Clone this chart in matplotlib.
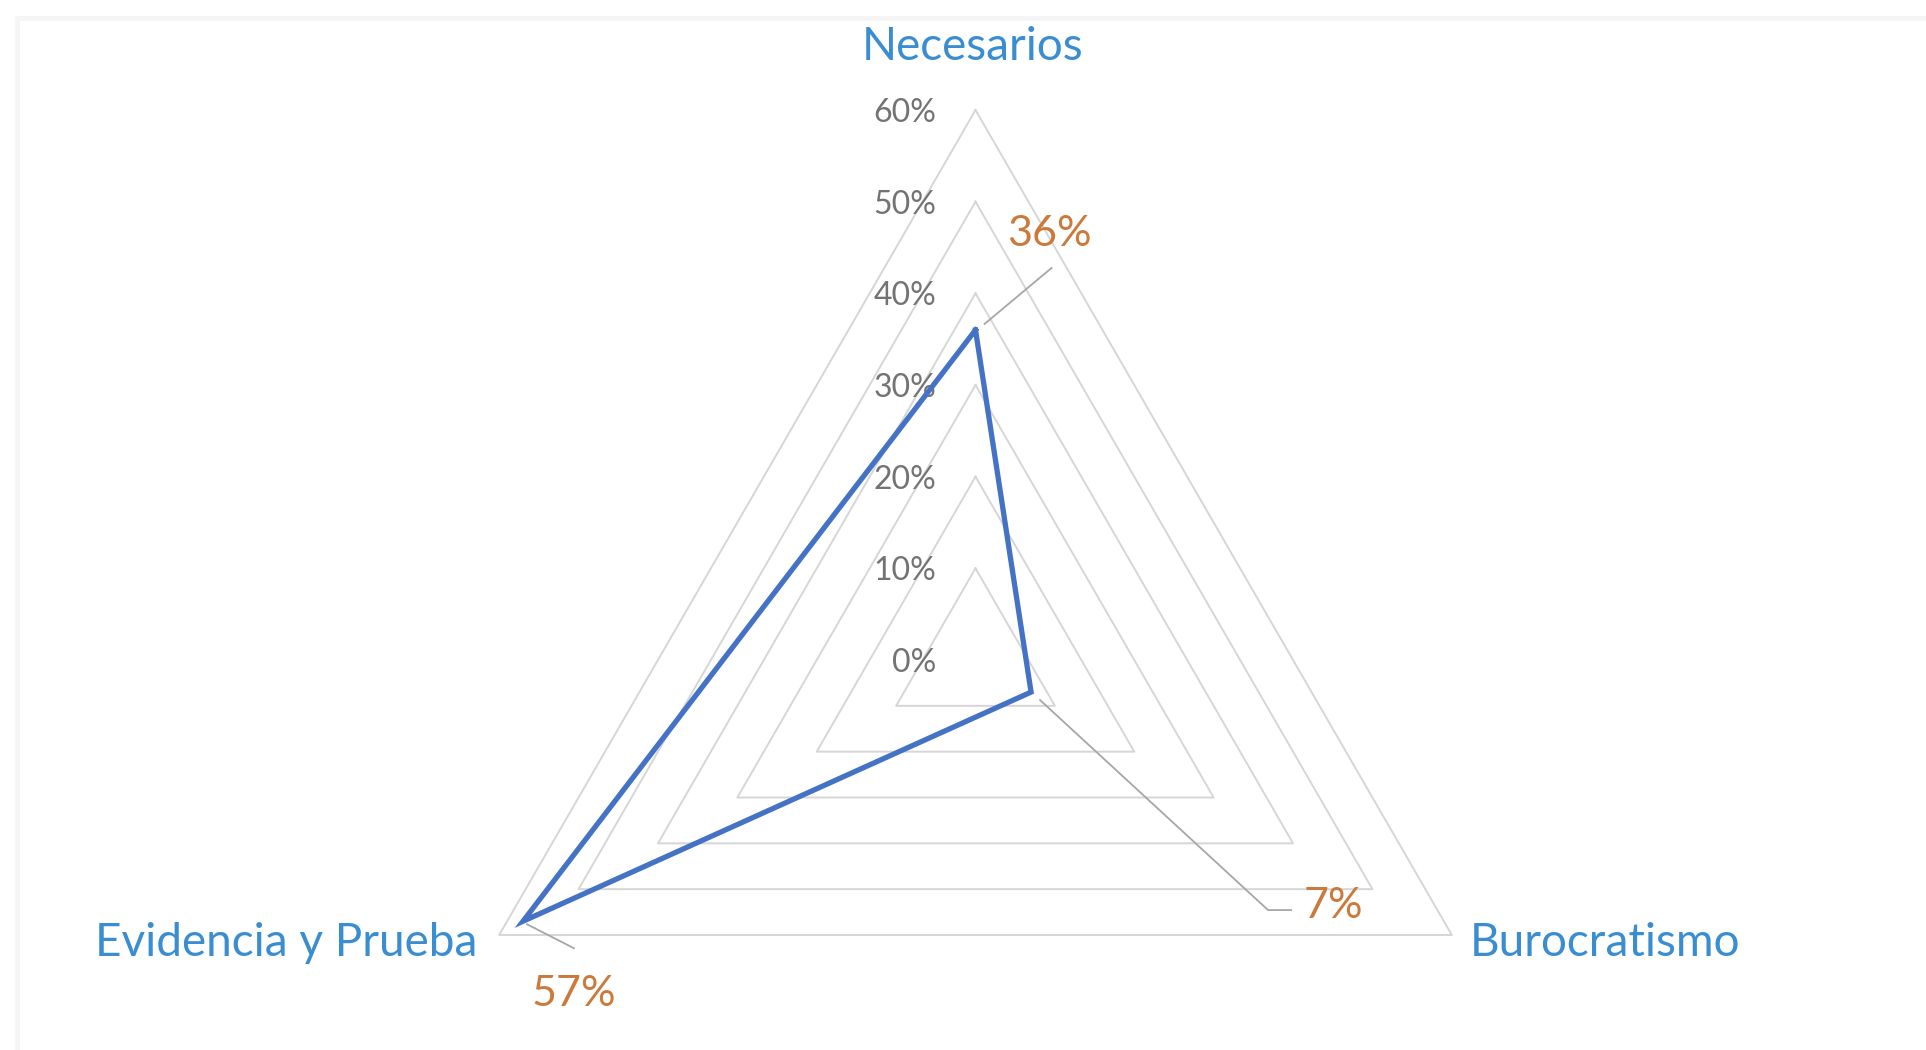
import numpy as np
import matplotlib
matplotlib.use('Agg')
import matplotlib.pyplot as plt
from matplotlib.patches import Rectangle

# data
categories = ['Necesarios', 'Burocratismo', 'Evidencia y Prueba']
values = [36, 7, 57]                     # percent
ticks = [0, 10, 20, 30, 40, 50, 60]      # radial axis

BLUE = '#4472C4'
CAT = '#3A8DD0'
ORANGE = '#CB7A3C'
GRID = '#D6D6D6'
TICK = '#737373'
LEAD = '#A6A6A6'

plt.rcParams['font.family'] = ['Lato', 'DejaVu Sans']

ang = np.deg2rad([90, -30, 210])


def xy(r):
    r = np.broadcast_to(np.asarray(r, float), ang.shape)
    return r * np.cos(ang), r * np.sin(ang)


W, H = 1926, 1050
fig = plt.figure(figsize=(W / 100, H / 100), dpi=100)
ax = fig.add_axes([0, 0, 1, 1])
ppu = 550 / ticks[-1]        # pixels per percent
cx, cy = 975.5, 660          # centre, pixels from top-left
ax.set_xlim(-cx / ppu, (W - cx) / ppu)
ax.set_ylim(-(H - cy) / ppu, cy / ppu)
ax.axis('off')

# faint frame
fig.add_artist(Rectangle((17 / W, -0.1), 1.2, 1 - 18 / H + 0.1,
                         transform=fig.transFigure, fill=False,
                         ec='#F5F5F5', lw=3.5))

# rings
for t in ticks[1:]:
    x, y = xy(t)
    ax.plot(np.append(x, x[0]), np.append(y, y[0]), color=GRID, lw=1.4,
            zorder=1)

# radial tick labels
for t in ticks:
    ax.annotate(f'{t}%', (0, t), xytext=(-39, -3), textcoords='offset pixels',
                ha='right', va='center', fontsize=23, color=TICK, zorder=2)

# series
x, y = xy(values)
ax.plot(np.append(x, x[0]), np.append(y, y[0]), color=BLUE, lw=3.8,
        solid_joinstyle='miter', zorder=3)

# category labels
vx, vy = xy(ticks[-1])
cat_pos = [((-3, 63), 'center'), ((18, -8), 'left'), ((-22, -8), 'right')]
for i, (name, (off, ha)) in enumerate(zip(categories, cat_pos)):
    ax.annotate(name, (vx[i], vy[i]), xytext=off, textcoords='offset pixels',
                ha=ha, va='center', fontsize=33, color=CAT)

# data labels + leader lines (offsets in pixels from the point)
lab_off = [(74, 96), (302, -214), (51, -73)]
leaders = [[(9, 6), (76, 62)],
           [(9, -8), (237, -218), (260, -218)],
           [(4, -3), (51, -27)]]
for i, v in enumerate(values):
    ax.annotate(f'{v}%', (x[i], y[i]), xytext=lab_off[i],
                textcoords='offset pixels', ha='center', va='center',
                fontsize=31, color=ORANGE, zorder=4)
    lx = [x[i] + dx / ppu for dx, dy in leaders[i]]
    ly = [y[i] + dy / ppu for dx, dy in leaders[i]]
    ax.plot(lx, ly, color=LEAD, lw=1.3, zorder=2)

fig.savefig('out.png', dpi=100, facecolor='white')
